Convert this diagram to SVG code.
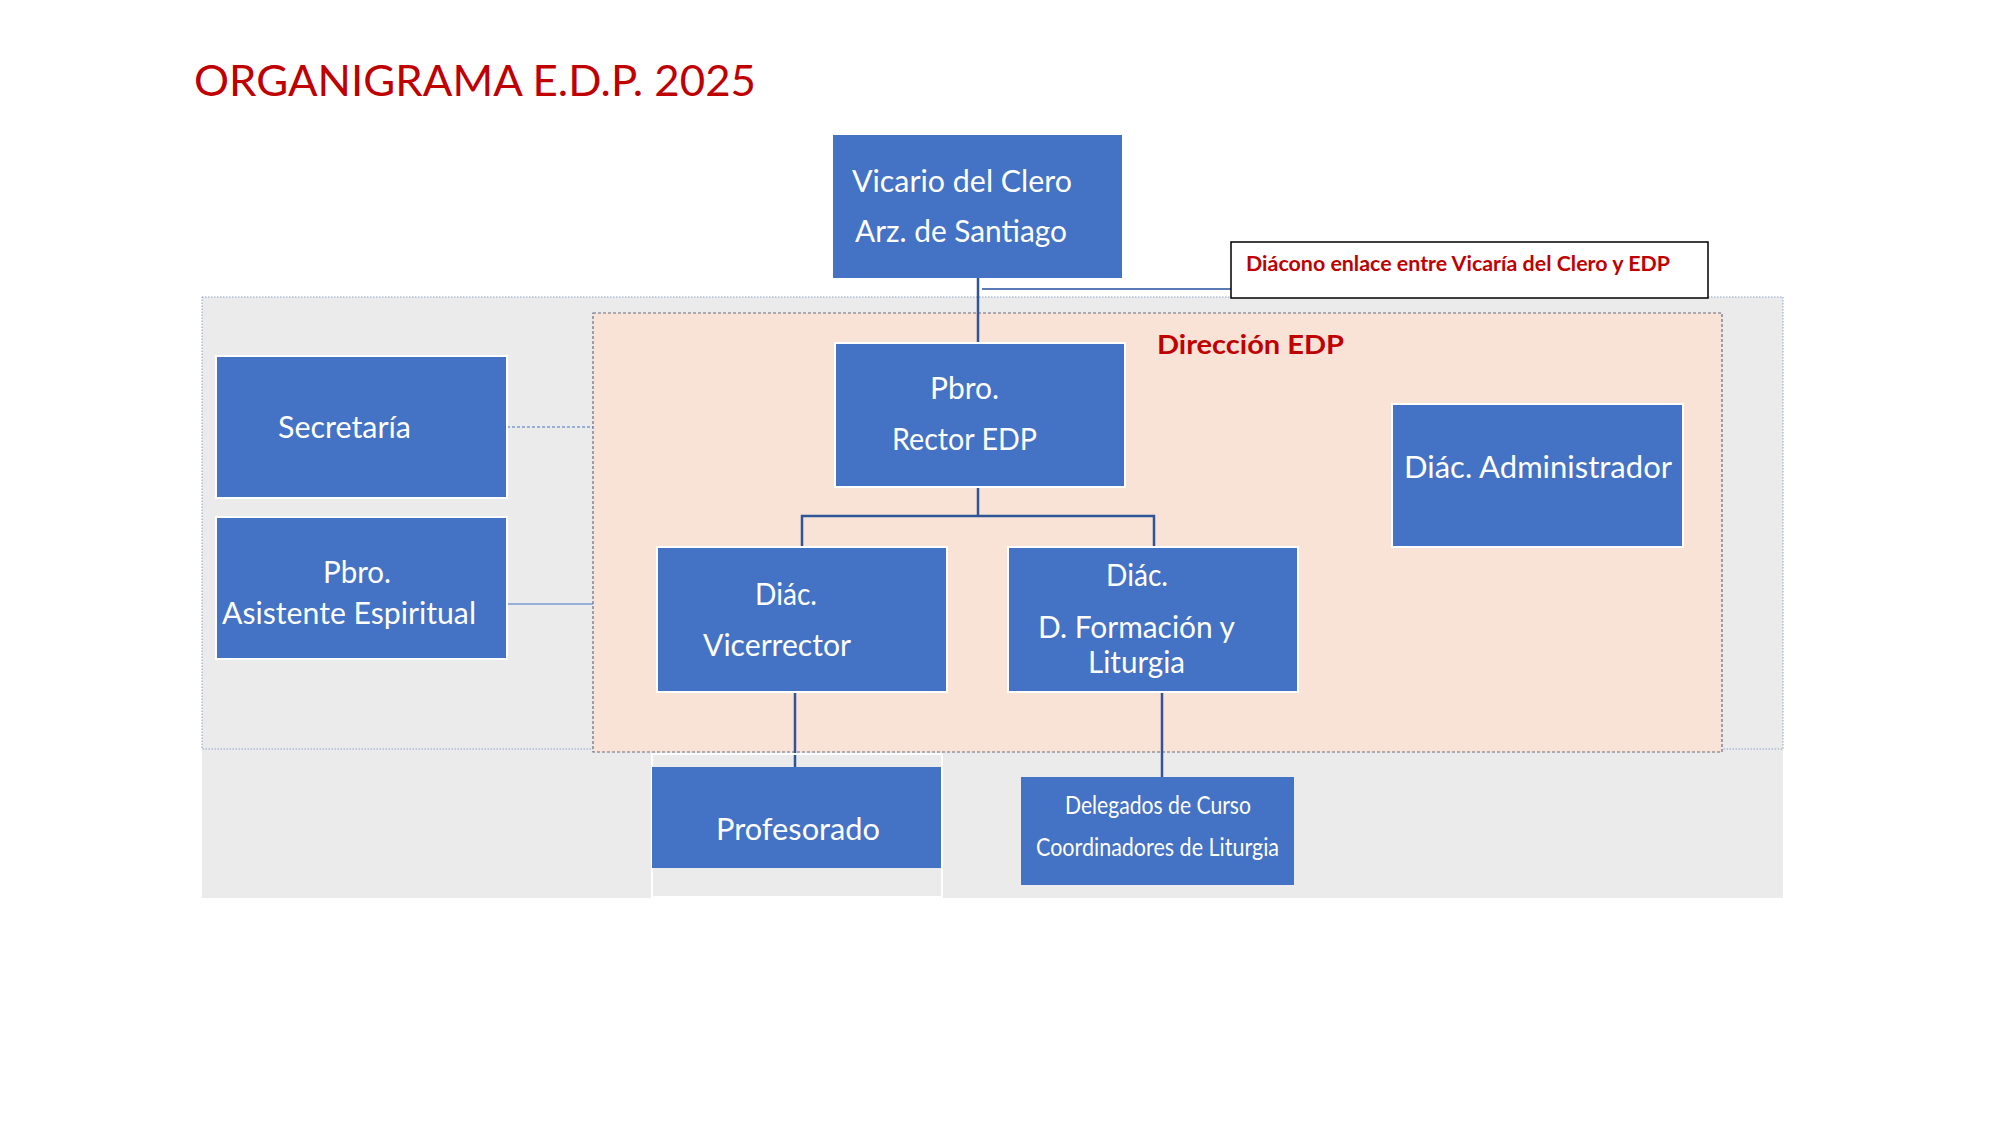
<svg xmlns="http://www.w3.org/2000/svg" width="2000" height="1125" viewBox="0 0 2000 1125">
<style>
.box{fill:#4472C4;stroke:#FFFFFF;stroke-width:2}
.wt{font-family:Lato,"Open Sans","Liberation Sans",sans-serif;font-size:30px;fill:#FFFFFF}
.sm{font-family:Lato,"Open Sans","Liberation Sans",sans-serif;font-size:25px;fill:#FFFFFF}
.red{font-family:Lato,"Open Sans","Liberation Sans",sans-serif;fill:#C00000}
.conn{stroke:#2F5597;stroke-width:2.5;fill:none}
</style>
<rect width="2000" height="1125" fill="#FFFFFF"/>
<text class="red" x="194" y="96" font-size="43" textLength="562" lengthAdjust="spacingAndGlyphs">ORGANIGRAMA E.D.P. 2025</text>
<g id="background">
<rect x="202" y="297" width="1581" height="601" fill="#EBEBEB"/>
<rect x="202" y="297" width="1581" height="452" fill="none" stroke="#8FA3C8" stroke-width="1" stroke-dasharray="1.5,1.5"/>
</g>
<g id="direccion">
<rect x="593" y="313" width="1129" height="439" fill="#F9E3D6" stroke="#6B6B80" stroke-width="1.2" stroke-dasharray="3,2"/>
<text class="red" x="1157" y="354" font-size="26" font-weight="bold" textLength="187" lengthAdjust="spacingAndGlyphs">Dirección EDP</text>
</g>
<g id="connectors">
<line class="conn" x1="978" y1="278" x2="978" y2="343"/>
<line x1="982" y1="289" x2="1231" y2="289" stroke="#5B7BB5" stroke-width="2"/>
<line class="conn" x1="978" y1="487" x2="978" y2="516"/>
<polyline class="conn" points="802,547 802,516 1154,516 1154,547"/>
<line class="conn" x1="795" y1="692" x2="795" y2="767"/>
<line class="conn" x1="1162" y1="692" x2="1162" y2="777"/>
<line x1="507" y1="427" x2="593" y2="427" stroke="#4472C4" stroke-width="1" stroke-dasharray="3,2"/>
<line x1="507" y1="604" x2="593" y2="604" stroke="#4472C4" stroke-width="1.2"/>
</g>
<g id="vicario">
<rect x="833" y="135" width="289" height="143" fill="#4472C4"/>
<text class="wt" x="852" y="192" textLength="220" lengthAdjust="spacingAndGlyphs">Vicario del Clero</text>
<text class="wt" x="855" y="242" textLength="212" lengthAdjust="spacingAndGlyphs">Arz. de Santiago</text>
</g>
<g id="diacono-enlace">
<rect x="1231" y="242" width="477" height="56" fill="#FFFFFF" stroke="#000000" stroke-width="1.5"/>
<text class="red" x="1246" y="271" font-size="20" font-weight="bold" textLength="424" lengthAdjust="spacingAndGlyphs">Diácono enlace entre Vicaría del Clero y EDP</text>
</g>
<g id="rector">
<rect class="box" x="835" y="343" width="290" height="144"/>
<text class="wt" x="930" y="399" textLength="69" lengthAdjust="spacingAndGlyphs">Pbro.</text>
<text class="wt" x="892" y="450" textLength="145" lengthAdjust="spacingAndGlyphs">Rector EDP</text>
</g>
<g id="administrador">
<rect class="box" x="1392" y="404" width="291" height="143"/>
<text class="wt" x="1404" y="478" textLength="268" lengthAdjust="spacingAndGlyphs">Diác. Administrador</text>
</g>
<g id="secretaria">
<rect class="box" x="216" y="356" width="291" height="142"/>
<text class="wt" x="278" y="438" textLength="133" lengthAdjust="spacingAndGlyphs">Secretaría</text>
</g>
<g id="asistente">
<rect class="box" x="216" y="517" width="291" height="142"/>
<text class="wt" x="323" y="583" textLength="68" lengthAdjust="spacingAndGlyphs">Pbro.</text>
<text class="wt" x="222" y="624" textLength="254" lengthAdjust="spacingAndGlyphs">Asistente Espiritual</text>
</g>
<g id="vicerrector">
<rect class="box" x="657" y="547" width="290" height="145"/>
<text class="wt" x="755" y="605" textLength="62" lengthAdjust="spacingAndGlyphs">Diác.</text>
<text class="wt" x="703" y="656" textLength="148" lengthAdjust="spacingAndGlyphs">Vicerrector</text>
</g>
<g id="formacion">
<rect class="box" x="1008" y="547" width="290" height="145"/>
<text class="wt" x="1106" y="586" textLength="62" lengthAdjust="spacingAndGlyphs">Diác.</text>
<text class="wt" x="1038" y="638" textLength="197" lengthAdjust="spacingAndGlyphs">D. Formación y</text>
<text class="wt" x="1088" y="673" textLength="97" lengthAdjust="spacingAndGlyphs">Liturgia</text>
</g>
<g id="profesorado">
<rect x="652" y="754" width="290" height="143" fill="none" stroke="#FFFFFF" stroke-width="2"/>
<rect x="652" y="767" width="289" height="101" fill="#4472C4"/>
<text class="wt" x="716" y="840" textLength="164" lengthAdjust="spacingAndGlyphs">Profesorado</text>
</g>
<g id="delegados">
<rect x="1021" y="777" width="273" height="108" fill="#4472C4"/>
<text class="sm" x="1065" y="814" textLength="186" lengthAdjust="spacingAndGlyphs">Delegados de Curso</text>
<text class="sm" x="1036" y="856" textLength="243" lengthAdjust="spacingAndGlyphs">Coordinadores de Liturgia</text>
</g>
</svg>
